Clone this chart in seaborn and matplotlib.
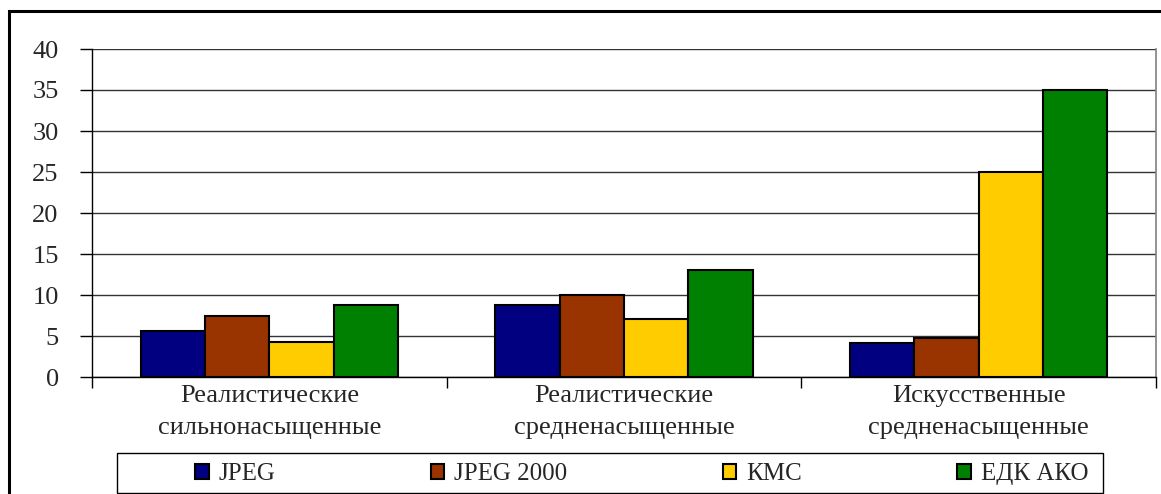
import matplotlib
matplotlib.use("Agg")
import matplotlib.pyplot as plt
from matplotlib.patches import Rectangle
import seaborn as sns
import pandas as pd

categories = ["Реалистические\nсильнонасыщенные",
              "Реалистические\nсредненасыщенные",
              "Искусственные\nсредненасыщенные"]
series = ["JPEG", "JPEG 2000", "КМС", "ЕДК АКО"]
jpeg = [5.6, 8.8, 4.1]
jpeg2000 = [7.5, 10.0, 4.7]
kmc = [4.3, 7.1, 25.0]
edk = [8.8, 13.0, 35.0]
colors = ["#000080", "#993300", "#FFCC00", "#008000"]
yticks = [0, 5, 10, 15, 20, 25, 30, 35, 40]

rows = []
for name, vals in zip(series, [jpeg, jpeg2000, kmc, edk]):
    for c, v in zip(categories, vals):
        rows.append({"cat": c, "series": name, "value": v})
df = pd.DataFrame(rows)

sns.set_style("white")
plt.rcParams['font.family'] = ['Liberation Serif', 'DejaVu Serif']

W, H = 1161, 494
fig = plt.figure(figsize=(W / 100, H / 100), dpi=100)
ax = fig.add_axes([92 / W, (H - 377) / H, (1156 - 92) / W, (377 - 49) / H])

sns.barplot(data=df, x="cat", y="value", hue="series", order=categories,
            hue_order=series, palette=colors, width=0.725, gap=0,
            edgecolor="black", linewidth=1.5, saturation=1, ax=ax, zorder=3)

ax.set_ylim(0, 40)
ax.set_xlim(-0.5, 2.5)
ax.set_yticks(yticks)
ax.yaxis.grid(True, color="#333333", linewidth=1.0, zorder=0)
ax.set_axisbelow(True)
ax.set_xlabel("")
ax.set_ylabel("")

ax.spines["top"].set_visible(False)
ax.spines["right"].set_color("#808080")
ax.spines["right"].set_linewidth(1.2)
ax.spines["left"].set_color("black")
ax.spines["left"].set_linewidth(1.0)
ax.spines["bottom"].set_color("black")
ax.spines["bottom"].set_linewidth(1.0)

ax.tick_params(axis="y", which="major", direction="out", length=9, width=1,
               color="black", labelsize=19, pad=15, left=True)
ax.set_xticks([0, 1, 2])
ax.set_xticklabels(categories, fontsize=19, linespacing=1.55)
ax.tick_params(axis="x", which="major", length=0, pad=6)
ax.set_xticks([-0.5, 0.5, 1.5, 2.5], minor=True)
ax.tick_params(axis="x", which="minor", direction="out", length=8, width=1,
               color="black", bottom=True)

leg = ax.get_legend()
if leg is not None:
    leg.remove()
handles = [Rectangle((0, 0), 1, 1, facecolor=c, edgecolor="black", linewidth=1.5)
           for c in colors]
leg = fig.legend(handles, series, loc="center left",
                 bbox_to_anchor=(195 / W, (H - 474) / H),
                 ncol=4, frameon=False, fontsize=18, handlelength=0.55,
                 handleheight=0.55, handletextpad=0.4, borderaxespad=0,
                 columnspacing=6.2, borderpad=0)

fig.add_artist(Rectangle((117 / W, (H - 493) / H), (1103 - 117) / W, 40 / H,
                         transform=fig.transFigure, fill=False,
                         edgecolor="black", linewidth=1.0))

fig.add_artist(Rectangle((9 / W, -0.1), 2.0, (H - 11) / H + 0.1,
                         transform=fig.transFigure, fill=False,
                         edgecolor="black", linewidth=2.2))

fig.savefig("out.png", dpi=100, facecolor="white")
